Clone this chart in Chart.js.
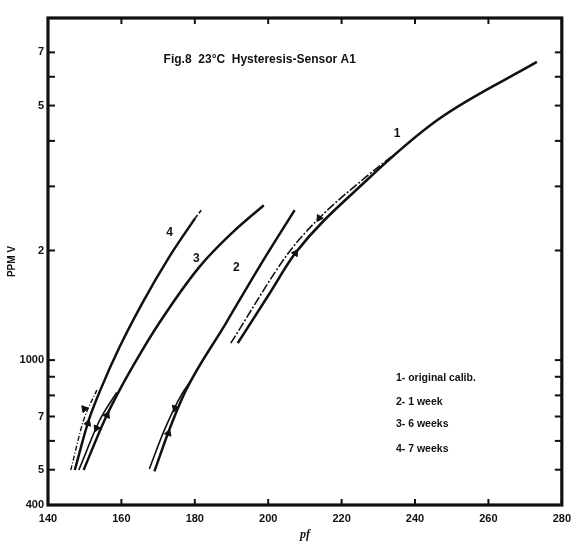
<!DOCTYPE html>
<html><head><meta charset="utf-8">
<script src="https://cdn.jsdelivr.net/npm/chart.js@4"></script>
<style>html,body{margin:0;padding:0;background:#fff}</style>
</head><body>
<canvas id="c" width="578" height="545"></canvas>
<script>
// ---- tick values / labels ----
const xTickValues = [140,160,180,200,220,240,260,280];
const yTickValues = [400,500,600,700,800,900,1000,2000,3000,4000,5000,6000,7000];
const yTickLabels = ['400','5','','7','','','1000','2','','','5','','7'];

// ---- curve 1: original calib. (two branches of the hysteresis loop) ----
const c1UpPf   = [191.7,200.1,207.4,226.6,246.1,273.2];
const c1UpPpm  = [1113,1509,1968,3103,4563,6587];
const c1DnPf   = [189.8,205.5,213.9,225.3,234.8];
const c1DnPpm  = [1113,1968,2455,3103,3700];
// ---- curve 2: 1 week ----
const c2UpPf   = [169.0,173.0,177.6,188.5,197.7,207.2];
const c2UpPpm  = [495,642,827,1264,1812,2581];
const c2DnPf   = [167.6,171.7,176.3,179.0];
const c2DnPpm  = [502,642,801,880];
// ---- curve 3: 6 weeks ----
const c3UpPf   = [149.7,155.4,159.5,164.1,170.3,181.2,190.1,198.8];
const c3UpPpm  = [499,684,827,1000,1264,1800,2233,2663];
const c3DnPf   = [148.4,154.1,158.7];
const c3DnPpm  = [499,684,815];
// ---- curve 4: 7 weeks ----
const c4UpPf   = [147.3,151.1,154.6,159.5,165.7,173.0,180.1];
const c4UpPpm  = [499,684,843,1086,1434,1918,2455];
const c4EndPf  = [180.1,182.0];
const c4EndPpm = [2455,2600];
const c4DnPf   = [146.2,149.7,153.3];
const c4DnPpm  = [499,684,827];
// ---- arrow heads on the loops ----
const arrowPf  = [207.4,213.9,172.8,174.6,156.1,153.2,150.9,149.9];
const arrowPpm = [1968,2455,630,738,706,650,671,735];

// ---- text ----
const chartTitle = 'Fig.8  23°C  Hysteresis-Sensor A1';
const curveLabels = ['1','2','3','4'];
const legendLines = ['1- original calib.','2- 1 week','3- 6 weeks','4- 7 weeks'];
const xTitle = 'pf';
const yTitle = 'PPM V';

// styles (not data)
const arrowRot = [34,214,20,200,25,205,20,200];

const pts = (xs, ys) => xs.map((v,i)=>({x:v, y:ys[i]}));
const lineDs = (xs, ys, w, dash) => ({
  data: pts(xs, ys), borderColor:'#111', borderWidth:w, borderDash: dash||[],
  pointRadius:0, cubicInterpolationMode:'monotone', showLine:true, fill:false
});

const datasets = [
  lineDs(c1UpPf,c1UpPpm,2.6), lineDs(c1DnPf,c1DnPpm,1.6,[9,2,2,2]),
  lineDs(c2UpPf,c2UpPpm,2.5), lineDs(c2DnPf,c2DnPpm,1.6),
  lineDs(c3UpPf,c3UpPpm,2.5), lineDs(c3DnPf,c3DnPpm,1.6),
  lineDs(c4UpPf,c4UpPpm,2.5), lineDs(c4EndPf,c4EndPpm,1.6,[4,2]), lineDs(c4DnPf,c4DnPpm,1.4,[5,2,1,2]),
  { data: pts(arrowPf, arrowPpm), showLine:false, pointStyle:'triangle', pointRadius:4,
    pointRotation: arrowRot, backgroundColor:'#111', borderColor:'#111', borderWidth:1 }
];

const overlay = {
  id:'overlay',
  afterDatasetsDraw(chart){
    const {ctx, chartArea:a, scales:{x,y}} = chart;
    ctx.save();
    ctx.strokeStyle = '#111';
    ctx.lineWidth = 2;
    const seg = (x1,y1,x2,y2)=>{ctx.beginPath();ctx.moveTo(x1,y1);ctx.lineTo(x2,y2);ctx.stroke();};
    xTickValues.forEach(v=>{
      const px = x.getPixelForValue(v);
      seg(px,a.bottom,px,a.bottom-6);
      seg(px,a.top,px,a.top+6);
    });
    yTickValues.forEach(v=>{
      const py = y.getPixelForValue(v);
      seg(a.left,py,a.left+7,py);
      seg(a.right,py,a.right-7,py);
    });
    ctx.lineWidth = 3.2;
    ctx.strokeRect(a.left, a.top, a.right-a.left, a.bottom-a.top);

    ctx.fillStyle = '#111';
    ctx.textBaseline = 'middle';
    ctx.textAlign = 'left';
    ctx.font = 'bold 12px "Liberation Sans", Arial, sans-serif';
    ctx.fillText(chartTitle, x.getPixelForValue(171.5), y.getPixelForValue(6700));

    ctx.font = 'bold 12px "Liberation Sans", Arial, sans-serif';
    const labPos = [[234.2,4199],[190.4,1790],[179.5,1895],[172.2,2233]];
    curveLabels.forEach((t,i)=>ctx.fillText(t, x.getPixelForValue(labPos[i][0]), y.getPixelForValue(labPos[i][1])));

    ctx.font = 'bold 10.5px "Liberation Sans", Arial, sans-serif';
    const legY = [892,767,667,570];
    legendLines.forEach((t,i)=>ctx.fillText(t, x.getPixelForValue(234.8), y.getPixelForValue(legY[i])));
    ctx.restore();
  }
};

new Chart(document.getElementById('c'), {
  type:'line',
  data:{ datasets },
  plugins:[overlay],
  options:{
    responsive:false, animation:false, devicePixelRatio:1,
    layout:{ padding:{ top:18, right:13, left:0, bottom:0 } },
    plugins:{ legend:{display:false}, tooltip:{enabled:false}, title:{display:false} },
    scales:{
      x:{
        type:'linear', min:140, max:280,
        afterBuildTicks: s => { s.ticks = xTickValues.map(v=>({value:v})); },
        afterFit: s => { s.height = 40; },
        grid:{ display:false, drawTicks:false }, border:{ display:false },
        ticks:{ color:'#111', padding:7, maxRotation:0, autoSkip:false,
          font:{ family:'"Liberation Sans", Arial, sans-serif', size:11, weight:'bold' } },
        title:{ display:true, text:xTitle, color:'#111', padding:{top:0,bottom:3},
          font:{ family:'"Liberation Serif", serif', size:12, weight:'bold', style:'italic' } }
      },
      y:{
        type:'logarithmic', min:400, max:8700,
        afterBuildTicks: s => { s.ticks = yTickValues.map(v=>({value:v})); },
        afterFit: s => { s.width = 48; },
        grid:{ display:false, drawTicks:false }, border:{ display:false },
        ticks:{ color:'#111', padding:4, autoSkip:false,
          callback:(v,i)=>yTickLabels[i],
          font:{ family:'"Liberation Sans", Arial, sans-serif', size:11, weight:'bold' } },
        title:{ display:true, text:yTitle, color:'#111', padding:{top:6,bottom:0},
          font:{ family:'"Liberation Sans", Arial, sans-serif', size:10, weight:'bold' } }
      }
    }
  }
});
</script>
</body></html>
